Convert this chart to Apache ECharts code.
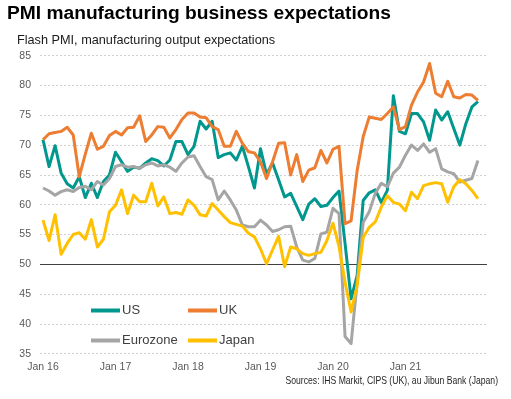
<!DOCTYPE html>
<html>
<head>
<meta charset="utf-8">
<script src="https://cdn.jsdelivr.net/npm/echarts@6/dist/echarts.min.js"></script>
<style>
html,body{margin:0;padding:0;background:#fff;}
#chart{width:511px;height:399px;}
</style>
</head>
<body>
<div id="chart"></div>
<script>
// Monthly categories Jan 16 .. Jan 22
const monthNames = ['Jan','Feb','Mar','Apr','May','Jun','Jul','Aug','Sep','Oct','Nov','Dec'];
const categories = [];
for (let y = 16; y <= 22; y++) {
  for (let m = 0; m < 12; m++) {
    if (y === 22 && m > 0) break;
    categories.push(monthNames[m] + ' ' + y);
  }
}
const xTickLabels = ['Jan 16','Jan 17','Jan 18','Jan 19','Jan 20','Jan 21'];
const yTicks = [35,40,45,50,55,60,65,70,75,80,85];

const usValues = [70.9,66.4,69.9,65.3,63.5,62.8,64.7,61.2,63.6,61.2,63.9,65.0,
  68.8,67.2,65.6,66.3,66.1,67.0,67.7,67.4,66.5,67.5,70.6,70.6,
  68.4,69.8,74.0,72.7,74.0,67.9,68.4,68.7,67.5,69.8,66.4,62.8,
  69.4,65.1,67.0,64.2,61.3,61.9,59.7,57.5,60.1,61.0,59.7,59.9,
  61.2,62.3,53.5,44.2,48.1,60.7,62.0,62.5,60.4,62.4,78.3,72.3,
  71.9,75.3,75.3,73.9,70.8,75.9,74.2,75.6,72.8,70.0,73.6,76.4,
  77.3];
const ukValues = [70.9,71.9,72.1,72.3,73.0,71.7,64.7,68.5,72.0,69.3,69.8,71.6,
  72.3,71.7,72.9,73.0,74.9,70.6,71.7,73.1,73.0,71.2,72.6,74.3,
  75.4,75.4,74.7,74.6,73.1,72.6,69.8,69.8,72.3,70.3,68.9,68.7,
  67.2,64.4,67.2,70.3,70.4,65.0,68.4,63.9,65.8,66.2,69.1,67.0,
  69.3,69.8,56.8,57.3,65.7,71.4,74.7,74.5,74.3,75.3,76.4,72.6,
  73.1,76.7,78.9,80.6,83.7,78.7,78.1,80.7,78.1,77.9,78.5,78.4,
  77.5];
const ezValues = [62.8,62.3,61.6,62.2,62.5,62.2,62.9,63.1,62.5,63.9,63.3,64.4,
  66.4,66.7,66.3,66.4,66.1,66.7,67.0,66.5,66.7,66.3,65.6,67.0,
  68.0,68.2,66.4,64.7,64.2,60.8,62.3,60.8,59.1,56.6,56.3,56.3,
  57.4,56.6,55.5,55.8,56.3,56.4,52.9,50.7,50.4,51.0,55.1,55.4,
  59.4,58.5,37.9,36.7,47.0,57.0,58.8,61.9,63.6,63.0,65.3,66.3,
  68.3,70.0,69.1,70.2,68.8,69.4,66.0,65.5,65.2,63.8,64.1,64.4,
  67.4];
const jpValues = [57.4,54.0,58.3,51.7,53.5,55.0,55.3,54.2,57.5,52.9,54.2,58.8,
  59.9,62.5,58.5,61.6,60.5,60.5,63.6,59.8,61.3,58.5,58.7,58.4,
  60.8,59.9,58.3,58.1,60.2,59.1,58.0,57.0,56.7,56.4,55.2,54.6,
  52.6,50.1,52.4,54.7,49.6,52.9,52.6,51.8,51.5,51.8,52.0,54.0,
  56.9,53.0,47.0,42.0,46.4,54.5,56.2,57.1,59.6,61.5,60.4,60.1,
  59.0,62.1,61.0,63.2,63.5,63.7,63.5,60.4,63.0,64.2,63.5,62.4,
  61.0];

const seriesNames = ['US','UK','Eurozone','Japan'];
const seriesColors = ['#00978E','#ED7D31','#A5A5A5','#FFC000'];
const seriesValues = [usValues, ukValues, ezValues, jpValues];

const FONT = "'Liberation Sans', Arial, sans-serif";
const chart = echarts.init(document.getElementById('chart'), null, {renderer:'canvas'});

const series = seriesNames.map((name, k) => ({
  name: name,
  type: 'line',
  showSymbol: false,
  symbol: 'none',
  smooth: false,
  color: seriesColors[k],
  lineStyle: {width: 3, color: seriesColors[k], join: 'round'},
  data: seriesValues[k].map((v, i) => [i, v]),
  z: 3 + k
}));
series[0].markLine = {
  silent: true,
  symbol: 'none',
  label: {show: false},
  lineStyle: {color: '#404040', width: 1, type: 'solid'},
  data: [{yAxis: 50}],
  z: 2
};

const legendPos = [
  {left: 91, top: 304},
  {left: 188, top: 304},
  {left: 91, top: 334},
  {left: 188, top: 334}
];
const legends = seriesNames.map((name, k) => ({
  data: [name],
  left: legendPos[k].left,
  top: legendPos[k].top,
  padding: 0,
  icon: 'rect',
  itemWidth: 29,
  itemHeight: 4,
  selectedMode: false,
  textStyle: {fontFamily: FONT, fontSize: 13, color: '#404040', padding: [0,0,0,-3]}
}));

chart.setOption({
  animation: false,
  backgroundColor: '#ffffff',
  title: [
    {text: 'PMI manufacturing business expectations', left: 7, top: 4, padding: 0,
     textStyle: {fontFamily: FONT, fontSize: 19.2, fontWeight: 'bold', color: '#000000'}},
    {text: 'Flash PMI, manufacturing output expectations', left: 17, top: 34, padding: 0,
     textStyle: {fontFamily: FONT, fontSize: 12.7, fontWeight: 'normal', color: '#1a1a1a'}}
  ],
  graphic: [{
    type: 'text',
    x: 498, y: 381,
    scaleX: 0.82,
    silent: true,
    style: {
      text: 'Sources: IHS Markit, CIPS (UK), au Jibun Bank (Japan)',
      font: "10.5px 'Liberation Sans', Arial, sans-serif",
      fill: '#262626',
      textAlign: 'right',
      textVerticalAlign: 'middle'
    }
  }],
  legend: legends,
  grid: {left: 40, right: 24, top: 55.7, bottom: 45.3, containLabel: false},
  xAxis: {
    type: 'value',
    min: -0.5,
    max: categories.length + 0.5,
    axisLine: {show: false},
    axisTick: {show: false},
    splitLine: {show: false},
    axisLabel: {
      customValues: xTickLabels.map(l => categories.indexOf(l)),
      formatter: v => categories[Math.round(v)],
      fontFamily: FONT, fontSize: 10.5, color: '#595959', margin: 8
    }
  },
  yAxis: {
    type: 'value',
    min: yTicks[0],
    max: yTicks[yTicks.length - 1],
    interval: 5,
    axisLine: {show: false},
    axisTick: {show: false},
    splitLine: {show: true, lineStyle: {color: '#D0D0D0', width: 1, type: [2, 2]}},
    axisLabel: {fontFamily: FONT, fontSize: 10.5, color: '#595959', margin: 9}
  },
  series: series
});
</script>
</body>
</html>
